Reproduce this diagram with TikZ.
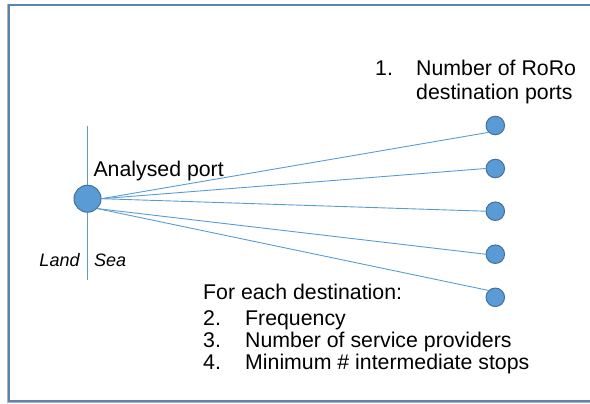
\documentclass[tikz,border=0pt]{standalone}
\usepackage{fontspec}
\setmainfont{Liberation Sans}
\definecolor{portfill}{HTML}{5B9BD5}
\definecolor{portline}{HTML}{41719C}
\definecolor{frameblue}{HTML}{5B83B0}
\begin{document}
\begin{tikzpicture}[x=1bp,y=-1bp,
  txt/.style={inner sep=0pt, anchor=base west, font=\fontsize{21.3bp}{24bp}\selectfont},
  itxt/.style={inner sep=0pt, anchor=base west, font=\fontsize{18bp}{21bp}\selectfont\itshape},
  bigport/.style={circle, fill=portfill, draw=portline, line width=1bp, minimum size=27bp, inner sep=0pt},
  dest/.style={circle, fill=portfill, draw=portline, line width=1bp, minimum size=18.5bp, inner sep=0pt},
  link/.style={draw=portfill, line width=0.9bp}]
\useasboundingbox (0,0) rectangle (590,403);
% frame
\draw[gray!60, line width=1bp] (7.6,4) -- (7.6,402.6) -- (600,402.6);
\draw[frameblue, line width=1.4bp] (600,5) -- (9,5) -- (9,401) -- (600,401);
% shore line
\coordinate (shoreTop) at (87.5,125.5);
\coordinate (shoreBot) at (87.5,280);
\draw[link] (shoreTop) -- (shoreBot);
% ports
\node[bigport] (port) at (87.5,198.7) {};
\node[dest] (d1) at (495.3,125.5) {};
\node[dest] (d2) at (495.3,168.5) {};
\node[dest] (d3) at (495.3,211.2) {};
\node[dest] (d4) at (495.3,254.2) {};
\node[dest] (d5) at (495.3,297.3) {};
% links
\draw[link] (port.east) -- (d1.south west);
\draw[link] (port.east) -- (d2.west);
\draw[link] (port.east) -- (d3.west);
\draw[link] (port.south east) -- (d4.west);
\draw[link] (port.south east) -- (d5.north west);
% texts
\node[txt] (ap) at (93.3,176.7) {Analysed port};
\node[itxt] (land) at (39.3,266) {Land};
\node[itxt] (sea) at (94,266) {Sea};
\node[txt] (n1) at (375,75) {1.};
\node[txt] (t1a) at (416,75) {Number of RoRo};
\node[txt] (t1b) at (416,99) {destination ports};
\node[txt] (fe) at (203,299) {For each destination:};
\node[txt] (n2) at (203,325) {2.};
\node[txt] (t2) at (245,325) {Frequency};
\node[txt] (n3) at (203,347) {3.};
\node[txt] (t3) at (245,347) {Number of service providers};
\node[txt] (n4) at (203,369) {4.};
\node[txt] (t4) at (245,369) {Minimum \# intermediate stops};
\end{tikzpicture}
\end{document}
